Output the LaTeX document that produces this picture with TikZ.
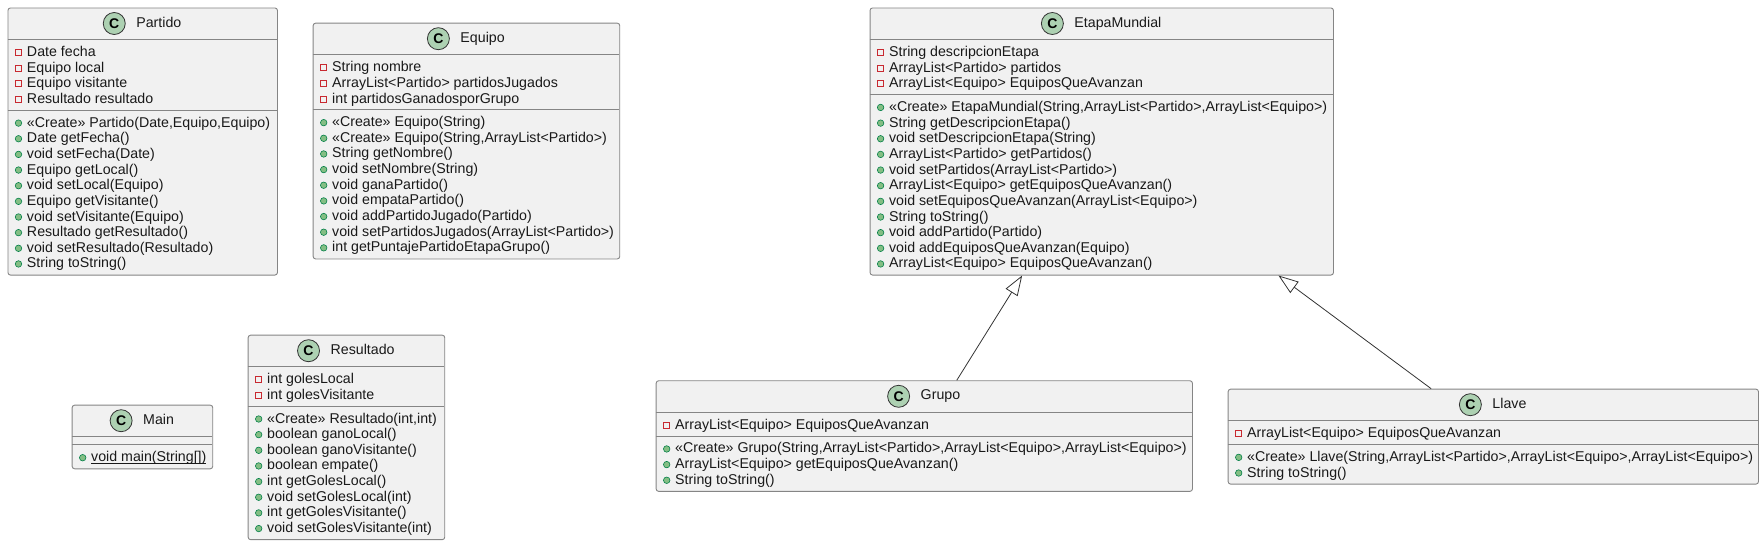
\documentclass[tikz,border=0pt]{standalone}
\usepackage{fontspec}
\setmainfont{Liberation Sans}
\usetikzlibrary{positioning,arrows.meta}

\definecolor{boxfill}{HTML}{F1F1F1}
\definecolor{boxline}{HTML}{858585}
\definecolor{iconfill}{HTML}{ADD1B2}
\definecolor{privline}{HTML}{C82930}
\definecolor{pubfill}{HTML}{84BE84}
\definecolor{publine}{HTML}{038048}

\tikzset{
  classbox/.style={draw=boxline, fill=boxfill, line width=0.9pt, rounded corners=2.5pt, anchor=north west, inner sep=0pt},
  rowtext/.style={anchor=base west, inner sep=0pt, font=\fontsize{14.2}{16}\selectfont, text=black!90},
  titletext/.style={inner sep=0pt, text height=10pt, text depth=3pt, font=\fontsize{14.2}{16}\selectfont, text=black!90},
  classicon/.style={circle, draw=black!80, fill=iconfill, line width=0.8pt, minimum size=22pt, inner sep=0pt, font=\fontsize{14}{16}\bfseries\selectfont},
  privicon/.style={draw=privline, line width=0.8pt, minimum size=6pt, inner sep=0pt},
  pubicon/.style={circle, draw=publine, fill=pubfill, line width=0.6pt, minimum size=6.5pt, inner sep=0pt},
  extends/.style={draw=black!80, line width=0.8pt, -{Triangle[open, length=20pt, width=14pt, line width=0.8pt]}}
}

% name, left, top, width, number of fields, number of methods, fields, methods
\newcommand{\umlclass}[8]{
  \pgfmathsetmacro{\fieldtop}{#3+32}
  \pgfmathsetmacro{\methtop}{\fieldtop+#5*15.65+8}
  \pgfmathsetmacro{\boxh}{32+#5*15.65+8+#6*15.65+8}
  \node[classbox, minimum width=#4pt, minimum height=\boxh pt] (#1) at (#2,#3) {};
  \draw[draw=boxline, line width=0.9pt] (#2,\fieldtop) -- ++(#4,0);
  \draw[draw=boxline, line width=0.9pt] (#2,\methtop) -- ++(#4,0);
  \node[titletext] (#1-title) at (#2+#4/2+16.6,#3+16) {#1};
  \node[classicon, left=10.5pt of #1-title] (#1-icon) {C};
  \ifnum#5>0
    \foreach \txt [count=\i] in {#7} {
      \pgfmathsetmacro{\rowy}{\fieldtop+(\i-1)*15.65}
      \node[privicon] (#1-fi\i) at (#2+11,\rowy+13) {};
      \node[rowtext] (#1-f\i) at (#2+19.3,\rowy+17) {\txt};
    }
  \fi
  \foreach \txt [count=\i] in {#8} {
    \pgfmathsetmacro{\rowy}{\methtop+(\i-1)*15.65}
    \node[pubicon] (#1-mi\i) at (#2+11,\rowy+13) {};
    \node[rowtext] (#1-m\i) at (#2+19.3,\rowy+17) {\txt};
  }
}

\begin{document}
\begin{tikzpicture}[x=1pt, y=-1pt]
  \useasboundingbox (0,0) rectangle (1764,544);

  \umlclass{Partido}{7.5}{7.5}{269.5}{4}{10}
    {Date fecha, Equipo local, Equipo visitante, Resultado resultado}
    {{«Create» Partido(Date,Equipo,Equipo)}, Date getFecha(), void setFecha(Date), Equipo getLocal(),
     void setLocal(Equipo), Equipo getVisitante(), void setVisitante(Equipo), Resultado getResultado(),
     void setResultado(Resultado), String toString()}

  \umlclass{Equipo}{312.7}{22.7}{306.6}{3}{9}
    {String nombre, ArrayList<Partido> partidosJugados, int partidosGanadosporGrupo}
    {«Create» Equipo(String), {«Create» Equipo(String,ArrayList<Partido>)}, String getNombre(),
     void setNombre(String), void ganaPartido(), void empataPartido(), void addPartidoJugado(Partido),
     void setPartidosJugados(ArrayList<Partido>), int getPuntajePartidoEtapaGrupo()}

  \umlclass{Main}{71.7}{404.7}{140.6}{0}{1}
    {}
    {\underline{\smash{void main(String[])}}}

  \umlclass{Resultado}{247.7}{334.7}{196.6}{2}{8}
    {int golesLocal, int golesVisitante}
    {{«Create» Resultado(int,int)}, boolean ganoLocal(), boolean ganoVisitante(), boolean empate(),
     int getGolesLocal(), void setGolesLocal(int), int getGolesVisitante(), void setGolesVisitante(int)}

  \umlclass{EtapaMundial}{869.6}{7.5}{463.4}{3}{11}
    {String descripcionEtapa, ArrayList<Partido> partidos, ArrayList<Equipo> EquiposQueAvanzan}
    {{«Create» EtapaMundial(String,ArrayList<Partido>,ArrayList<Equipo>)}, String getDescripcionEtapa(),
     void setDescripcionEtapa(String), ArrayList<Partido> getPartidos(), void setPartidos(ArrayList<Partido>),
     ArrayList<Equipo> getEquiposQueAvanzan(), void setEquiposQueAvanzan(ArrayList<Equipo>), String toString(),
     void addPartido(Partido), void addEquiposQueAvanzan(Equipo), ArrayList<Equipo> EquiposQueAvanzan()}

  \umlclass{Grupo}{655.7}{380.3}{536.3}{1}{3}
    {ArrayList<Equipo> EquiposQueAvanzan}
    {{«Create» Grupo(String,ArrayList<Partido>,ArrayList<Equipo>,ArrayList<Equipo>)},
     ArrayList<Equipo> getEquiposQueAvanzan(), String toString()}

  \umlclass{Llave}{1227.7}{388.7}{530.3}{1}{2}
    {ArrayList<Equipo> EquiposQueAvanzan}
    {{«Create» Llave(String,ArrayList<Partido>,ArrayList<Equipo>,ArrayList<Equipo>)}, String toString()}

  \draw[extends] ([xshift=32.45pt]Grupo.north) -- ([xshift=-79.6pt]EtapaMundial.south);
  \draw[extends] ([xshift=-62.15pt]Llave.north) -- ([xshift=176.7pt]EtapaMundial.south);
\end{tikzpicture}
\end{document}
